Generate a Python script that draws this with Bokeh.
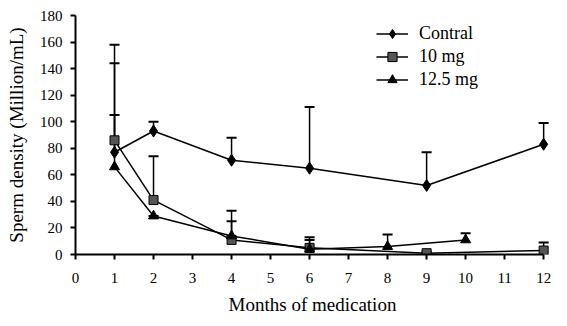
from bokeh.plotting import figure
from bokeh.models import Range1d, Whisker, ColumnDataSource, Legend, LegendItem, TeeHead, FixedTicker
from bokeh.embed import file_html
from bokeh.resources import INLINE

# Data
ctrl_months = [1, 2, 4, 6, 9, 12]
ctrl_vals = [77, 93, 71, 65, 52, 83]
ctrl_upper = [144, 100, 88, 111, 77, 99]

mg10_months = [1, 2, 4, 6, 9, 12]
mg10_vals = [86, 41, 11, 5, 1, 3]
mg10_upper = [158, 74, 33, 13, 2, 9]

mg125_months = [1, 2, 4, 6, 8, 10]
mg125_vals = [66, 29, 14, 4, 6, 11]
mg125_upper = [105, 29, 25, 11, 15, 16]

x_ticks = list(range(0, 13))
y_ticks = list(range(0, 181, 20))

FONT = "Liberation Serif"

p = figure(width=567, height=326, output_backend="svg", toolbar_location=None,
           x_range=Range1d(0, 12.15), y_range=Range1d(0, 180))
p.min_border_left = 75
p.min_border_right = 18
p.min_border_top = 15
p.min_border_bottom = 72
p.outline_line_color = None
p.xgrid.visible = False
p.ygrid.visible = False

for ax in (p.xaxis[0], p.yaxis[0]):
    ax.axis_line_width = 2
    ax.major_tick_line_width = 2
    ax.major_tick_out = 5
    ax.major_tick_in = 0
    ax.minor_tick_line_color = None
    ax.major_label_text_font = FONT
    ax.major_label_text_font_size = "15px"
    ax.major_label_text_color = "black"
    ax.axis_label_text_font = FONT
    ax.axis_label_text_font_size = "19px"
    ax.axis_label_text_font_style = "normal"
    ax.axis_label_text_color = "black"

p.xaxis.ticker = FixedTicker(ticks=x_ticks)
p.xaxis.bounds = (0, 12)
p.xaxis.major_label_standoff = 13
p.xaxis.axis_label = "Months of medication"
p.xaxis.axis_label_standoff = 8
p.yaxis.ticker = FixedTicker(ticks=y_ticks)
p.yaxis.major_label_standoff = 8
p.yaxis.axis_label = "Sperm density (Million/mL)"
p.yaxis.axis_label_standoff = 10

series = [
    (ctrl_months, ctrl_vals, ctrl_upper, "diamond", 12, "black", "Contral"),
    (mg10_months, mg10_vals, mg10_upper, "square", 9, "#555555", "10 mg"),
    (mg125_months, mg125_vals, mg125_upper, "triangle", 10, "black", "12.5 mg"),
]

items = []
for xs, ys, ups, marker, size, fill, name in series:
    src = ColumnDataSource(dict(x=xs, y=ys, up=ups))
    w = Whisker(source=src, base="x", lower="y", upper="up", line_color="black", line_width=1.5,
                upper_head=TeeHead(size=10, line_width=2, line_color="black"), lower_head=None)
    p.add_layout(w)
    l = p.line("x", "y", source=src, line_color="black", line_width=1.5)
    m = p.scatter("x", "y", source=src, marker=marker, size=size, fill_color=fill, line_color="black")
    items.append(LegendItem(label=name, renderers=[l, m]))

legend = Legend(items=items, location=(301, 163), padding=0, margin=0, spacing=0,
                label_height=23, glyph_height=23, glyph_width=32, label_standoff=11,
                border_line_color=None, background_fill_alpha=0,
                label_text_font=FONT, label_text_font_size="18px", label_text_color="black")
p.add_layout(legend)

open("out.html", "w").write(file_html(p, INLINE))
